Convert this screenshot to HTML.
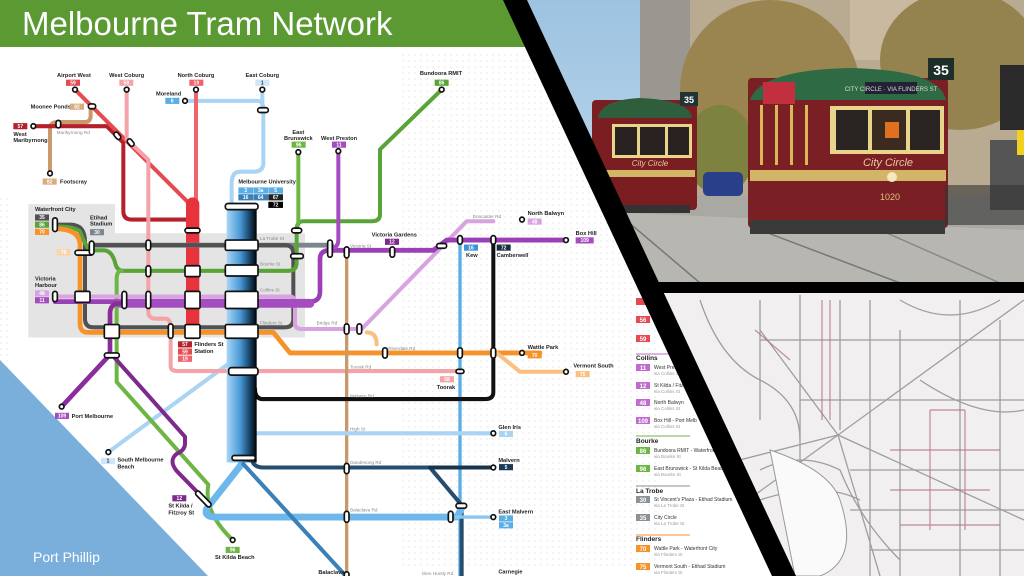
<!DOCTYPE html>
<html><head><meta charset="utf-8"><style>
html,body{margin:0;padding:0;width:1024px;height:576px;overflow:hidden;background:#fff}
svg{display:block}
text{font-family:"Liberation Sans",sans-serif}
</style></head><body>
<svg width="1024" height="576" viewBox="0 0 1024 576" xmlns="http://www.w3.org/2000/svg">
<defs>
<pattern id="dots" width="6" height="6" patternUnits="userSpaceOnUse"><circle cx="1" cy="1" r="0.6" fill="#d8d8d8"/></pattern>
<linearGradient id="trunk" x1="0" x2="1" y1="0" y2="0"><stop offset="0" stop-color="#a8d6f5"/><stop offset="0.45" stop-color="#4a9ad8"/><stop offset="0.8" stop-color="#123a5a"/><stop offset="1" stop-color="#000"/></linearGradient>
<linearGradient id="sky" x1="0" x2="0" y1="0" y2="1"><stop offset="0" stop-color="#9cc3e2"/><stop offset="1" stop-color="#c9dcea"/></linearGradient>
<clipPath id="photo"><polygon points="525,0 1024,0 1024,283 652,283"/></clipPath>
<clipPath id="map"><polygon points="655,293 1024,293 1024,576 795,576"/></clipPath>
</defs>
<rect width="1024" height="576" fill="#fff"/>
<rect x="400" y="50" width="260" height="520" fill="url(#dots)"/>
<rect x="0" y="195" width="12" height="200" fill="url(#dots)"/>
<rect x="0" y="0" width="530" height="47" fill="#5b9a33"/>
<text x="22" y="35" font-size="33" fill="#fff">Melbourne Tram Network</text>
<polygon points="0,360 0,576 208,576" fill="#7aafdb"/>
<text x="33" y="562" font-size="14" fill="#fff">Port Phillip</text>

<g transform="translate(0,40) scale(0.33333,0.342)" fill="none" stroke-linecap="round" stroke-linejoin="round">
<path d="M85,480 H345 V565 H915 V870 H85 Z" fill="#e4e4e4" stroke="none"/>
<path d="M555,178 H770 Q790,178 790,200 V360 Q790,385 760,385 H720 Q695,385 695,420 V940 L325,1205" stroke="#a9d4f3" stroke-width="12"/>
<path d="M787,145 V200" stroke="#a9d4f3" stroke-width="12"/>
<path d="M150,390 V260 Q150,240 175,240 H255 Q272,240 272,220 V195" stroke="#c9996a" stroke-width="12"/>
<path d="M100,252 H320 L370,300 V500 Q370,525 395,525 H560 Q580,530 580,560" stroke="#b5212b" stroke-width="12"/>
<path d="M225,145 L580,490 V855" stroke="#e44a52" stroke-width="12"/>
<path d="M380,145 V290 L445,350 V795 Q445,815 470,815 H495 Q512,815 512,840 V955 Q512,968 535,968 H1380" stroke="#f4a4a8" stroke-width="12"/>
<path d="M588,145 V480" stroke="#f0636a" stroke-width="12"/>
<path d="M578,480 V855" stroke="#e7333c" stroke-width="40"/>
<path d="M275,600 H995" stroke="#7d868c" stroke-width="14"/>
<path d="M165,540 H210 Q255,540 255,590 V815 Q255,840 280,840 H855 Q880,840 880,815 V625 Q880,600 855,600 H275" stroke="#515151" stroke-width="12"/>
<path d="M1325,145 L1140,320 V510 Q1140,530 1115,530 H910 Q890,530 890,555 V650 Q890,675 865,675 H370 Q350,675 345,650 Q335,615 310,615 H270 Q255,600 240,560 Q225,545 165,545" stroke="#5aa338" stroke-width="12"/>
<path d="M895,330 V540" stroke="#6db644" stroke-width="12"/>
<path d="M365,675 Q350,675 350,700 V1000 L625,1300 Q610,1380 698,1462" stroke="#6db644" stroke-width="12"/>
<path d="M165,552 Q240,552 240,600 V830 Q240,855 265,855 H820 L870,915 H1560" stroke="#f5922a" stroke-width="14"/>
<path d="M1100,855 Q1130,855 1130,890" stroke="#f9c080" stroke-width="12"/>
<path d="M1490,915 L1560,970 H1700" stroke="#f9c080" stroke-width="12"/>
<path d="M1560,915 H1620" stroke="#f5922a" stroke-width="14"/>
<path d="M165,750 H870 Q885,750 885,775 V830 Q885,845 905,845 H1085 L1400,530 H1480" stroke="#d8a3e0" stroke-width="12"/>
<path d="M165,765 H930 Q960,765 960,735 V640 Q960,615 990,615 H1300 L1340,585 H1700" stroke="#9a3fb5" stroke-width="14"/>
<path d="M360,770 H930" stroke="#a54cc0" stroke-width="26"/>
<path d="M185,1072 L330,920 V800 Q330,770 360,770" stroke="#8b2c9d" stroke-width="14"/>
<path d="M340,925 L555,1160 V1180 Q555,1200 530,1210 Q505,1230 530,1260 L625,1355" stroke="#7e2a8d" stroke-width="12"/>
<path d="M1015,325 V585 Q1015,605 995,610" stroke="#a54cc0" stroke-width="12"/>
<path d="M1040,610 V1570" stroke="#c9996a" stroke-width="10"/>
<path d="M1380,580 V1570" stroke="#5aaee6" stroke-width="10"/>
<path d="M1480,580 V1030 Q1480,1050 1455,1050 H790 Q765,1050 765,1020" stroke="#111" stroke-width="12"/>
<path d="M700,1150 H1480" stroke="#a9d4f3" stroke-width="12"/>
<path d="M755,1225 Q760,1250 790,1250 H1290 L1385,1360 V1570" stroke="#274d6e" stroke-width="12"/>
<path d="M1290,1250 H1480" stroke="#183550" stroke-width="12"/>
<path d="M725,1240 L620,1370 Q610,1395 650,1395 H1370 L1385,1370" stroke="#6cb8ec" stroke-width="20"/>
<path d="M1370,1395 H1480" stroke="#8ac7f0" stroke-width="10"/>
<path d="M730,1240 L1040,1570" stroke="#3b80b8" stroke-width="12"/>
<rect x="680" y="485" width="90" height="750" fill="url(#trunk)" stroke="none"/>
<g fill="#fff" stroke="#111" stroke-width="5">
<circle cx="225" cy="145" r="7"/><circle cx="380" cy="145" r="7"/><circle cx="588" cy="145" r="7"/><circle cx="787" cy="145" r="7"/>
<circle cx="555" cy="178" r="7"/><circle cx="100" cy="252" r="7"/><circle cx="150" cy="390" r="7"/><circle cx="1325" cy="145" r="7"/>
<circle cx="895" cy="328" r="7"/><circle cx="1015" cy="325" r="7"/><circle cx="185" cy="1072" r="7"/><circle cx="325" cy="1205" r="7"/>
<circle cx="698" cy="1462" r="7"/><circle cx="1480" cy="1150" r="7"/><circle cx="1480" cy="1250" r="7"/><circle cx="1480" cy="1395" r="7"/>
<circle cx="1566" cy="525" r="7"/><circle cx="1698" cy="585" r="7"/><circle cx="1566" cy="915" r="7"/><circle cx="1698" cy="970" r="7"/>
</g>
<g fill="#fff" stroke="#111" stroke-width="5">
<rect x="676" y="478" width="98" height="18" rx="8"/>
<rect x="676" y="585" width="98" height="30" rx="4"/><rect x="676" y="658" width="98" height="32" rx="4"/>
<rect x="676" y="735" width="98" height="50" rx="4"/><rect x="676" y="832" width="98" height="40" rx="4"/>
<rect x="686" y="958" width="88" height="22" rx="8"/><rect x="696" y="1215" width="70" height="14" rx="7"/>
<rect x="555" y="550" width="45" height="14" rx="7"/><rect x="555" y="660" width="45" height="32" rx="4"/>
<rect x="555" y="735" width="45" height="50" rx="4"/><rect x="555" y="832" width="45" height="40" rx="4"/>
<rect x="225" y="735" width="45" height="32" rx="4"/><rect x="313" y="832" width="45" height="40" rx="4"/>
<rect x="438" y="585" width="14" height="30" rx="7"/><rect x="438" y="660" width="14" height="32" rx="7"/><rect x="438" y="735" width="14" height="50" rx="7"/>
<rect x="366" y="735" width="14" height="50" rx="7"/><rect x="505" y="830" width="14" height="42" rx="7"/>
<rect x="158" y="520" width="14" height="40" rx="7"/><rect x="158" y="735" width="14" height="30" rx="7"/>
<rect x="225" y="615" width="55" height="14" rx="7"/><rect x="268" y="588" width="14" height="40" rx="7"/>
<rect x="872" y="625" width="38" height="14" rx="7"/><rect x="875" y="550" width="30" height="14" rx="7"/>
<rect x="983" y="585" width="14" height="50" rx="7"/><rect x="1033" y="605" width="14" height="32" rx="7"/>
<rect x="1170" y="605" width="14" height="30" rx="7"/><rect x="1310" y="595" width="30" height="14" rx="7"/>
<rect x="1373" y="572" width="14" height="25" rx="7"/><rect x="1473" y="572" width="14" height="25" rx="7"/>
<rect x="1033" y="830" width="14" height="30" rx="7"/><rect x="1071" y="830" width="14" height="30" rx="7"/>
<rect x="1148" y="900" width="14" height="30" rx="7"/><rect x="1373" y="900" width="14" height="30" rx="7"/><rect x="1473" y="900" width="14" height="30" rx="7"/>
<rect x="1368" y="963" width="24" height="12" rx="6"/><rect x="773" y="198" width="32" height="14" rx="7"/>
<rect x="265" y="187" width="22" height="14" rx="7"/><rect x="168" y="235" width="14" height="22" rx="7"/>
<rect x="345" y="268" width="14" height="24" rx="7" transform="rotate(-40 352 280)"/><rect x="385" y="288" width="14" height="24" rx="7" transform="rotate(-40 392 300)"/>
<rect x="313" y="915" width="45" height="14" rx="7"/><rect x="1033" y="1238" width="14" height="30" rx="7"/>
<rect x="1033" y="1378" width="14" height="32" rx="7"/><rect x="1345" y="1378" width="14" height="32" rx="7"/>
<rect x="1368" y="1355" width="32" height="14" rx="7"/><rect x="1033" y="1555" width="14" height="25" rx="7"/>
<rect x="580" y="1335" width="60" height="14" rx="7" transform="rotate(45 610 1342)"/>
</g>
<g font-size="17" font-weight="bold" fill="#222" stroke="none">
<text x="222" y="108" text-anchor="middle">Airport West</text><text x="380" y="108" text-anchor="middle">West Coburg</text>
<text x="588" y="108" text-anchor="middle">North Coburg</text><text x="787" y="108" text-anchor="middle">East Coburg</text>
<text x="1323" y="102" text-anchor="middle">Bundoora RMIT</text><text x="468" y="162">Moreland</text>
<text x="92" y="200">Moonee Ponds</text><text x="40" y="280">West</text><text x="40" y="298">Maribyrnong</text>
<text x="180" y="420">Footscray</text><text x="895" y="275" text-anchor="middle">East</text><text x="895" y="292" text-anchor="middle">Brunswick</text>
<text x="1017" y="292" text-anchor="middle">West Preston</text><text x="715" y="420">Melbourne University</text>
<text x="105" y="500">Waterfront City</text><text x="270" y="525">Etihad</text><text x="270" y="543">Stadium</text>
<text x="105" y="703">Victoria</text><text x="105" y="722">Harbour</text><text x="1115" y="575">Victoria Gardens</text>
<text x="1398" y="634">Kew</text><text x="1490" y="634">Camberwell</text><text x="583" y="895">Flinders St</text><text x="583" y="915">Station</text>
<text x="1310" y="1020">Toorak</text><text x="215" y="1105">Port Melbourne</text><text x="352" y="1233">South Melbourne</text><text x="352" y="1253">Beach</text>
<text x="505" y="1367">St Kilda /</text><text x="505" y="1387">Fitzroy St</text><text x="645" y="1518">St Kilda Beach</text>
<text x="955" y="1562">Balaclava</text><text x="1495" y="1138">Glen Iris</text><text x="1495" y="1234">Malvern</text><text x="1495" y="1385">East Malvern</text>
<text x="1495" y="1560">Carnegie</text><text x="1583" y="512">North Balwyn</text><text x="1727" y="570">Box Hill</text>
<text x="1583" y="903">Wattle Park</text><text x="1720" y="958">Vermont South</text>
</g>
<g font-size="14" fill="#888" stroke="none">
<text x="170" y="275">Maribyrnong Rd</text><text x="780" y="585">La Trobe St</text><text x="780" y="660">Bourke St</text>
<text x="780" y="735">Collins St</text><text x="780" y="832">Flinders St</text><text x="1050" y="606">Victoria St</text>
<text x="950" y="832">Bridge Rd</text><text x="1165" y="906">Riverdale Rd</text><text x="1050" y="960">Toorak Rd</text>
<text x="1050" y="1045">Malvern Rd</text><text x="1050" y="1142">High St</text><text x="1050" y="1240">Dandenong Rd</text>
<text x="1050" y="1378">Balaclava Rd</text><text x="1418" y="520">Doncaster Rd</text><text x="1265" y="1565">Glen Huntly Rd</text>
</g>
<g font-size="15" font-weight="bold" fill="#fff" stroke="none" text-anchor="middle">
<rect x="198" y="116" width="42" height="18" fill="#e44a52"/><text x="219" y="130">59</text>
<rect x="358" y="116" width="42" height="18" fill="#f4a4a8"/><text x="379" y="130">58</text>
<rect x="568" y="116" width="42" height="18" fill="#f0636a"/><text x="589" y="130">19</text>
<rect x="766" y="116" width="42" height="18" fill="#cfe6f8"/><text x="787" y="130" fill="#234">1</text>
<rect x="1304" y="116" width="42" height="18" fill="#5aa338"/><text x="1325" y="130">86</text>
<rect x="496" y="169" width="42" height="18" fill="#5aaee6"/><text x="517" y="183">6</text>
<rect x="210" y="186" width="42" height="18" fill="#d9ab7e"/><text x="231" y="200">82</text>
<rect x="40" y="243" width="42" height="18" fill="#b5212b"/><text x="61" y="257">57</text>
<rect x="128" y="405" width="42" height="18" fill="#d9ab7e"/><text x="149" y="419">82</text>
<rect x="875" y="297" width="42" height="18" fill="#6db644"/><text x="896" y="311">96</text>
<rect x="996" y="297" width="42" height="18" fill="#a54cc0"/><text x="1017" y="311">11</text>
<rect x="715" y="431" width="44" height="18" fill="#5aaee6"/><text x="737" y="445">3</text>
<rect x="760" y="431" width="44" height="18" fill="#5aaee6"/><text x="782" y="445">3a</text>
<rect x="805" y="431" width="44" height="18" fill="#5aaee6"/><text x="827" y="445">5</text>
<rect x="715" y="451" width="44" height="18" fill="#3b80b8"/><text x="737" y="465">16</text>
<rect x="760" y="451" width="44" height="18" fill="#3b80b8"/><text x="782" y="465">64</text>
<rect x="805" y="451" width="44" height="18" fill="#222"/><text x="827" y="465">67</text>
<rect x="805" y="473" width="44" height="18" fill="#000"/><text x="827" y="487">72</text>
<rect x="105" y="510" width="42" height="18" fill="#515151"/><text x="126" y="524">35</text>
<rect x="105" y="531" width="42" height="18" fill="#5aa338"/><text x="126" y="545">86</text>
<rect x="105" y="552" width="42" height="18" fill="#f5922a"/><text x="126" y="566">70</text>
<rect x="270" y="553" width="42" height="18" fill="#7d868c"/><text x="291" y="567">30</text>
<rect x="170" y="612" width="42" height="18" fill="#fbd3a8"/><text x="191" y="626">75</text>
<rect x="105" y="732" width="42" height="18" fill="#d8a3e0"/><text x="126" y="746">48</text>
<rect x="105" y="752" width="42" height="18" fill="#a54cc0"/><text x="126" y="766">11</text>
<rect x="1155" y="581" width="42" height="18" fill="#7e2a8d"/><text x="1176" y="595">12</text>
<rect x="1392" y="598" width="42" height="18" fill="#3b93d8"/><text x="1413" y="612">16</text>
<rect x="1490" y="598" width="42" height="18" fill="#1a2d3f"/><text x="1511" y="612">72</text>
<rect x="534" y="881" width="42" height="18" fill="#b5212b"/><text x="555" y="895">57</text>
<rect x="534" y="902" width="42" height="18" fill="#e44a52"/><text x="555" y="916">59</text>
<rect x="534" y="923" width="42" height="18" fill="#f0636a"/><text x="555" y="937">19</text>
<rect x="1320" y="983" width="42" height="18" fill="#f4a4a8"/><text x="1341" y="997">58</text>
<rect x="165" y="1090" width="42" height="18" fill="#a54cc0"/><text x="186" y="1104">109</text>
<rect x="303" y="1222" width="42" height="18" fill="#cfe6f8"/><text x="324" y="1236" fill="#234">1</text>
<rect x="517" y="1331" width="42" height="18" fill="#7e2a8d"/><text x="538" y="1345">12</text>
<rect x="677" y="1482" width="42" height="18" fill="#6db644"/><text x="698" y="1496">96</text>
<rect x="1497" y="1143" width="42" height="18" fill="#a9d4f3"/><text x="1518" y="1157">6</text>
<rect x="1497" y="1240" width="42" height="18" fill="#1a3a58"/><text x="1518" y="1254">5</text>
<rect x="1497" y="1390" width="42" height="18" fill="#5aaee6"/><text x="1518" y="1404">3</text>
<rect x="1497" y="1410" width="42" height="18" fill="#5aaee6"/><text x="1518" y="1424">3a</text>
<rect x="1583" y="522" width="42" height="18" fill="#d8a3e0"/><text x="1604" y="536">48</text>
<rect x="1727" y="577" width="54" height="18" fill="#a54cc0"/><text x="1754" y="591">109</text>
<rect x="1583" y="913" width="42" height="18" fill="#f5922a"/><text x="1604" y="927">70</text>
<rect x="1727" y="968" width="42" height="18" fill="#fbc080"/><text x="1748" y="982">75</text>
</g>
</g>

<g font-family="Liberation Sans,sans-serif" font-size="5">
<g fill="#fff" font-weight="bold" font-size="6" text-anchor="middle">
<rect x="636" y="298" width="14" height="7" fill="#e44a52"/>
<rect x="636" y="316" width="14" height="7" fill="#e44a52"/><text x="643" y="322">56</text>
<rect x="636" y="335" width="14" height="7" fill="#e44a52"/><text x="643" y="341">59</text>
<rect x="636" y="364" width="14" height="7" fill="#c06ccf"/><text x="643" y="370">11</text>
<rect x="636" y="382" width="14" height="7" fill="#c06ccf"/><text x="643" y="388">12</text>
<rect x="636" y="399" width="14" height="7" fill="#c06ccf"/><text x="643" y="405">48</text>
<rect x="636" y="417" width="14" height="7" fill="#c06ccf"/><text x="643" y="423">109</text>
<rect x="636" y="447" width="14" height="7" fill="#6db644"/><text x="643" y="453">86</text>
<rect x="636" y="465" width="14" height="7" fill="#6db644"/><text x="643" y="471">96</text>
<rect x="636" y="496" width="14" height="7" fill="#8a9298"/><text x="643" y="502">30</text>
<rect x="636" y="514" width="14" height="7" fill="#8a9298"/><text x="643" y="520">35</text>
<rect x="636" y="545" width="14" height="7" fill="#f5922a"/><text x="643" y="551">70</text>
<rect x="636" y="563" width="14" height="7" fill="#f5922a"/><text x="643" y="569">75</text>
</g>
<g fill="#222" font-weight="bold" font-size="6.5">
<text x="636" y="360">Collins</text><text x="636" y="443">Bourke</text><text x="636" y="493">La Trobe</text><text x="636" y="541">Flinders</text>
</g>
<g stroke-width="1"><line x1="636" y1="354" x2="690" y2="354" stroke="#c06ccf"/><line x1="636" y1="436" x2="690" y2="436" stroke="#6db644"/><line x1="636" y1="486" x2="690" y2="486" stroke="#8a9298"/><line x1="636" y1="535" x2="690" y2="535" stroke="#f5922a"/></g>
<g fill="#333"><text x="654" y="369">West Preston</text><text x="654" y="387">St Kilda / Fitzroy</text><text x="654" y="404">North Balwyn</text><text x="654" y="422">Box Hill - Port Melb</text>
<text x="654" y="452">Bundoora RMIT - Waterfront</text><text x="654" y="470">East Brunswick - St Kilda Beach</text>
<text x="654" y="501">St Vincent's Plaza - Etihad Stadium</text><text x="654" y="519">City Circle</text>
<text x="654" y="550">Wattle Park - Waterfront City</text><text x="654" y="568">Vermont South - Etihad Stadium</text></g>
<g fill="#999" font-size="4.5"><text x="654" y="375">via Collins St</text><text x="654" y="393">via Collins St</text><text x="654" y="410">via Collins St</text><text x="654" y="428">via Collins St</text>
<text x="654" y="458">via Bourke St</text><text x="654" y="476">via Bourke St</text><text x="654" y="507">via La Trobe St</text><text x="654" y="525">via La Trobe St</text><text x="654" y="556">via Flinders St</text><text x="654" y="574">via Flinders St</text></g>
</g>

<g clip-path="url(#photo)">
<rect x="520" y="0" width="504" height="283" fill="url(#sky)"/>
<rect x="640" y="0" width="60" height="110" fill="#9a9690"/>
<rect x="690" y="0" width="334" height="200" fill="#b9ab92"/>
<rect x="850" y="0" width="100" height="60" fill="#c8b9a0"/>
<ellipse cx="770" cy="90" rx="90" ry="90" fill="#9a8550"/>
<ellipse cx="960" cy="60" rx="80" ry="70" fill="#94834e"/>
<ellipse cx="720" cy="150" rx="35" ry="45" fill="#7d8240"/>
<rect x="560" y="195" width="464" height="88" fill="#a9a8a3"/>
<polygon points="560,210 1024,230 1024,283 560,283" fill="#b7b6b1"/>
<line x1="620" y1="215" x2="700" y2="283" stroke="#777" stroke-width="1.5"/>
<line x1="760" y1="230" x2="900" y2="283" stroke="#777" stroke-width="1.5"/>
<line x1="880" y1="230" x2="1000" y2="283" stroke="#888" stroke-width="1.5"/>
<rect x="990" y="140" width="34" height="70" fill="#555"/>
<rect x="1000" y="65" width="24" height="65" fill="#2a2a2a"/>
<rect x="1017" y="130" width="7" height="25" fill="#f2d020"/>
<rect x="703" y="172" width="40" height="24" rx="5" fill="#2a3f8a"/>
<rect x="592" y="100" width="105" height="110" rx="4" fill="#7b1e22"/>
<path d="M598,118 Q600,100 640,98 Q690,100 692,118 Z" fill="#2e5e3c"/>
<rect x="612" y="124" width="80" height="34" fill="#e8d48a"/>
<rect x="615" y="127" width="22" height="28" fill="#2a2220"/><rect x="640" y="127" width="25" height="28" fill="#2a2220"/><rect x="668" y="127" width="21" height="28" fill="#2a2220"/>
<rect x="605" y="170" width="90" height="7" fill="#d2b566"/>
<rect x="595" y="205" width="95" height="8" fill="#333"/>
<rect x="680" y="92" width="18" height="14" fill="#233"/><text x="689" y="103" font-size="9" fill="#fff" text-anchor="middle" font-weight="bold">35</text>
<text x="650" y="166" font-size="8" fill="#e8c8a0" text-anchor="middle" font-style="italic" font-family="Liberation Serif,serif">City Circle</text>
<rect x="748" y="78" width="200" height="150" rx="4" fill="#7a1f24"/>
<path d="M750,100 Q760,70 850,68 Q940,70 946,100 Z" fill="#2e6a44"/>
<rect x="830" y="106" width="114" height="48" fill="#e8d48a"/>
<rect x="836" y="110" width="32" height="40" fill="#2a2522"/><rect x="872" y="110" width="34" height="40" fill="#3a2a20"/><rect x="910" y="110" width="30" height="40" fill="#2a2522"/>
<rect x="885" y="122" width="14" height="16" fill="#e07020"/>
<g fill="#d9b85a"><rect x="760" y="105" width="3" height="60"/><rect x="775" y="105" width="3" height="60"/><rect x="790" y="105" width="3" height="60"/><rect x="805" y="105" width="3" height="60"/></g>
<rect x="750" y="170" width="196" height="11" fill="#d2b566"/>
<rect x="750" y="220" width="195" height="14" fill="#3a3a3a"/>
<rect x="865" y="82" width="52" height="12" fill="#223"/>
<text x="891" y="91" font-size="6" fill="#ddd" text-anchor="middle">CITY CIRCLE · VIA FLINDERS ST</text>
<rect x="928" y="58" width="26" height="22" fill="#1e2e28"/><text x="941" y="75" font-size="14" fill="#fff" text-anchor="middle" font-weight="bold">35</text>
<rect x="763" y="82" width="32" height="22" fill="#c23040"/>
<text x="888" y="166" font-size="11" fill="#e8c8a0" text-anchor="middle" font-style="italic" font-family="Liberation Serif,serif">City Circle</text>
<text x="890" y="200" font-size="9" fill="#e3c27a" text-anchor="middle">1020</text>
<circle cx="892" cy="177" r="5" fill="#f4e8c0"/>
<rect x="945" y="185" width="79" height="40" fill="#333" opacity="0.6"/>
</g>

<g clip-path="url(#map)">
<rect x="640" y="290" width="384" height="286" fill="#f1efef"/>
<g stroke="#8a8a8a" stroke-width="1.3" fill="none" opacity="0.8">
<path d="M700,300 Q720,360 760,380 T800,440"/><path d="M760,300 V420"/><path d="M800,295 V560"/><path d="M840,300 V430"/>
<path d="M838,435 L700,470"/><path d="M838,435 L720,520"/><path d="M838,435 L1024,300"/><path d="M838,435 L1024,520"/><path d="M838,435 L880,576"/><path d="M838,435 L760,330"/>
<path d="M870,300 V576"/><path d="M900,330 V576"/><path d="M960,300 V576"/><path d="M1000,320 V576"/>
<path d="M760,340 H1024"/><path d="M800,400 H1024"/><path d="M850,470 H1024"/><path d="M850,510 H1024"/><path d="M870,550 H1024"/>
<path d="M760,470 Q800,450 840,470 Q860,520 900,560"/><path d="M760,500 Q820,480 860,500"/>
<path d="M900,300 Q950,330 1000,300"/><path d="M920,380 Q980,420 1024,410"/>
</g>
<g stroke="#b0708a" stroke-width="1.2" fill="none" opacity="0.8">
<path d="M822,300 V420"/><path d="M830,300 V420"/><path d="M930,410 V530"/><path d="M965,410 V530"/><path d="M930,410 H965"/><path d="M890,450 H1000"/><path d="M890,490 H990"/><path d="M900,525 H1000"/>
<path d="M755,330 L790,360"/>
</g>
<path d="M770,450 Q830,470 840,500 Q860,560 820,576 L795,576 Z" fill="#fafafa" stroke="#999" stroke-width="1"/>
</g>

<polygon points="503,0 527,0 796,576 772,576" fill="#000"/>
<rect x="640" y="282" width="384" height="11" fill="#000"/>
</svg>
</body></html>
